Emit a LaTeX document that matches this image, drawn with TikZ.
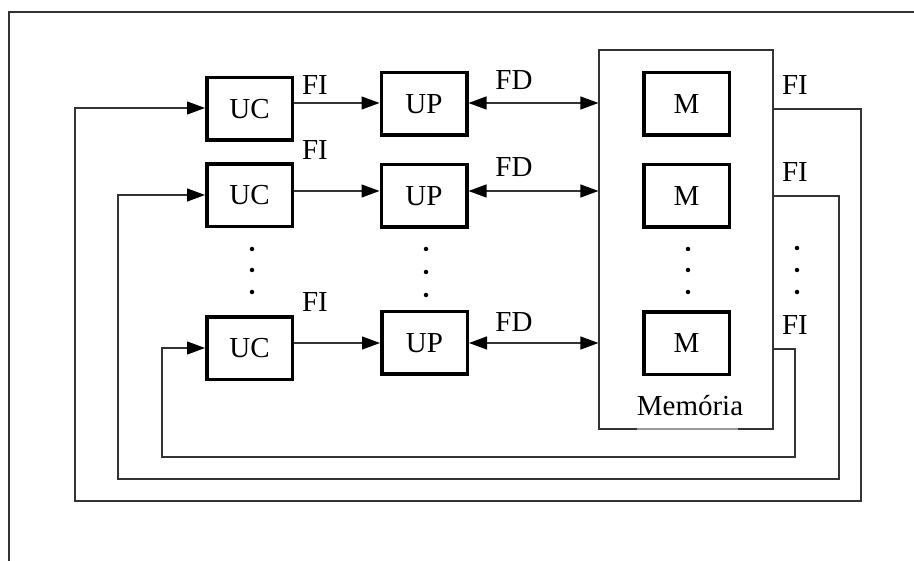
\documentclass[tikz,border=0pt]{standalone}
\usepackage{fontspec}
\setmainfont{Liberation Serif}
\usetikzlibrary{arrows.meta,calc}
\begin{document}
\begin{tikzpicture}[x=1pt,y=-1pt,
 blk/.style={draw,line width=3.5pt,minimum width=85.5pt,minimum height=62.5pt,inner sep=0pt,font=\fontsize{29}{31}\selectfont},
 thin/.style={line width=1.2pt,draw=black!80},
 tip/.style={Triangle[length=18pt,width=13pt,color=black]},
 arr/.style={thin,-{Triangle[length=18pt,width=13pt,color=black]}},
 darr/.style={thin,{Triangle[length=18pt,width=13pt,color=black]}-{Triangle[length=18pt,width=13pt,color=black]}},
 lbl/.style={font=\fontsize{29}{31}\selectfont,inner sep=0pt},
 dot/.style={circle,fill,inner sep=0pt,minimum size=4.5pt}]
\useasboundingbox (0,0) rectangle (914,561);
% frame
\coordinate (ftr) at (914,12);
\coordinate (ftl) at (9,12);
\coordinate (fbl) at (9,561);
\draw[thin] (ftr) -- (ftl) -- (fbl);
% memory
\node[draw,line width=1.2pt,draw=black!80,minimum width=174pt,minimum height=379pt,inner sep=0pt] (mem) at (686,239.5) {};
\coordinate (gl) at (637,429);
\coordinate (gr) at (738,429);
\draw[line width=1.3pt,white] (gl) -- (gr);
\draw[line width=1.2pt,black!40] (gl) -- (gr);
\node[lbl,anchor=base] (memlbl) at (690,416) {Memória};
% blocks
\node[blk] (uc1) at (249.5,109) {UC};
\node[blk] (uc2) at (249.5,195.5) {UC};
\node[blk] (uc3) at (249.5,348.5) {UC};
\node[blk] (up1) at (424,104) {UP};
\node[blk] (up2) at (424,196) {UP};
\node[blk] (up3) at (424.5,343) {UP};
\node[blk] (m1) at (686.5,104) {M};
\node[blk] (m2) at (686.5,196) {M};
\node[blk] (m3) at (686.5,343.5) {M};
% row coordinates
\coordinate (r1) at (0,103);
\coordinate (r2) at (0,191);
\coordinate (r3) at (0,343);
% forward arrows
\draw[arr] (uc1.east |- r1) -- (up1.west |- r1);
\draw[arr] (uc2.east |- r2) -- (up2.west |- r2);
\draw[arr] (uc3.east |- r3) -- (up3.west |- r3);
\draw[darr] (up1.east |- r1) -- (mem.west |- r1);
\draw[darr] (up2.east |- r2) -- (mem.west |- r2);
\draw[darr] (up3.east |- r3) -- (mem.west |- r3);
% feedback loops
\coordinate (a1) at (861,109);
\coordinate (b1) at (861,501);
\coordinate (c1) at (75,501);
\coordinate (d1) at (75,108);
\draw[arr] (mem.east |- a1) -- (a1) -- (b1) -- (c1) -- (d1) -- (uc1.west |- d1);
\coordinate (a2) at (839,196);
\coordinate (b2) at (839,479);
\coordinate (c2) at (118,479);
\coordinate (d2) at (118,195);
\draw[arr] (mem.east |- a2) -- (a2) -- (b2) -- (c2) -- (d2) -- (uc2.west |- d2);
\coordinate (a3) at (795,349);
\coordinate (b3) at (795,457);
\coordinate (c3) at (162,457);
\coordinate (d3) at (162,348);
\draw[arr] (mem.east |- a3) -- (a3) -- (b3) -- (c3) -- (d3) -- (uc3.west |- d3);
% labels
\node[lbl] (fi1) at (315,85.5) {FI};
\node[lbl] (fi2) at (315,150) {FI};
\node[lbl] (fi3) at (315,302.5) {FI};
\node[lbl] (fd1) at (514,80.5) {FD};
\node[lbl] (fd2) at (514,167) {FD};
\node[lbl] (fd3) at (514,322) {FD};
\node[lbl] (fir1) at (795,85) {FI};
\node[lbl] (fir2) at (795,172.5) {FI};
\node[lbl] (fir3) at (795,325) {FI};
% dots
\foreach \n/\x/\ya/\yb/\yc in {du/252/249/270/292, dp/426/249/272/295, dm/688/249/270/292, dr/797/248/270/292}{
  \node[dot] (\n a) at (\x,\ya) {};
  \node[dot] (\n b) at (\x,\yb) {};
  \node[dot] (\n c) at (\x,\yc) {};
}
\end{tikzpicture}
\end{document}
